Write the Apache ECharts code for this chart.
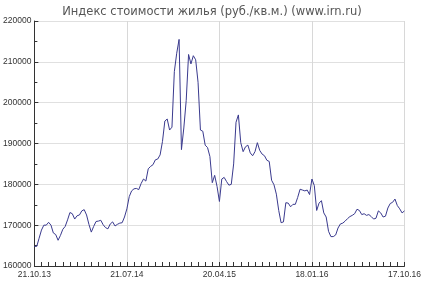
<!DOCTYPE html>
<html><head><meta charset="utf-8">
<script src="https://cdn.jsdelivr.net/npm/echarts@6/dist/echarts.min.js"></script>
<style>html,body{margin:0;padding:0;background:#fff}#c{width:424px;height:289px}</style>
</head><body><div id="c"></div>
<script>
var titleText = "Индекс стоимости жилья (руб./кв.м.) (www.irn.ru)";
var startDate = "2013-10-21"; // weekly series
var values = [
164800,164800,166800,168800,170000,170000,170700,170000,168100,167700,
166300,167500,169000,169700,171300,173100,172800,171500,172300,172500,
173500,173800,172500,170200,168300,169700,170900,171000,171200,170100,
169400,169100,170300,170800,169800,170200,170500,170600,172000,174000,
177000,178400,178900,179000,178700,180200,181300,180800,183800,184400,
184800,186000,186200,187200,190500,195500,196000,193300,194000,207600,
212100,215500,188500,193800,200500,211800,209500,211500,210500,205000,
193300,193000,189600,189000,186800,180400,182200,179500,175800,181300,
181700,180700,179800,180000,185000,195200,197000,190200,188000,189200,
189600,187700,187000,188000,190200,188300,187400,187000,185900,185600,
181000,179900,177600,173600,170600,170800,175500,175400,174500,175100,
175100,176800,178800,178600,178400,178600,177500,181300,179700,173600,
175400,176000,173000,172000,168500,167200,167200,167600,169300,170300,
170500,171000,171600,172100,172400,172800,173900,173600,172600,172800,
172400,172600,172100,171500,171700,173500,173000,172000,172200,174200,
175300,175600,176400,174800,174000,173000,173500
];
var yTicks = {min:160000, max:220000, step:10000};

function pad(n){return (n<10?'0':'')+n;}
var categories = [];
var d0 = new Date(startDate + "T00:00:00Z");
for (var i=0;i<values.length;i++){
  var d = new Date(d0.getTime() + i*7*86400000);
  categories.push(pad(d.getUTCDate())+'.'+pad(d.getUTCMonth()+1)+'.'+String(d.getUTCFullYear()).slice(2));
}
var chart = echarts.init(document.getElementById('c'), null, {renderer:'canvas'});
chart.setOption({
  animation:false,
  backgroundColor:'#fff',
  title:{text:titleText,left:'center',top:1,
    textStyle:{fontFamily:'DejaVu Sans',fontSize:11.5,fontWeight:'normal',color:'#555'}},
  grid:{left:34,right:19,top:21,bottom:23,containLabel:false},
  xAxis:{type:'category',data:categories,boundaryGap:false,
    axisLine:{lineStyle:{color:'#333',width:1}},
    axisTick:{show:true,inside:true,length:4,interval:2,lineStyle:{color:'#333'}},
    axisLabel:{interval:38,margin:4,fontFamily:'Liberation Sans',fontSize:8.5,color:'#333',showMinLabel:true,showMaxLabel:true},
    splitLine:{show:true,interval:38,lineStyle:{color:'#d8d8d8',width:1}}},
  yAxis:{type:'value',min:yTicks.min,max:yTicks.max,interval:yTicks.step,
    axisLine:{show:true,lineStyle:{color:'#333',width:1}},
    axisTick:{show:true,inside:true,length:4,lineStyle:{color:'#333'}},
    minorTick:{show:true,splitNumber:2,length:3,lineStyle:{color:'#333'}},
    axisLabel:{margin:3,fontFamily:'Liberation Sans',fontSize:8.5,color:'#333',
      formatter:function(v){return String(v);}},
    splitLine:{show:true,lineStyle:{color:'#e0e0e0',width:1}}},
  series:[{type:'line',data:values,showSymbol:false,smooth:false,
    lineStyle:{color:'#3a3a8e',width:1}}]
});
</script></body></html>
